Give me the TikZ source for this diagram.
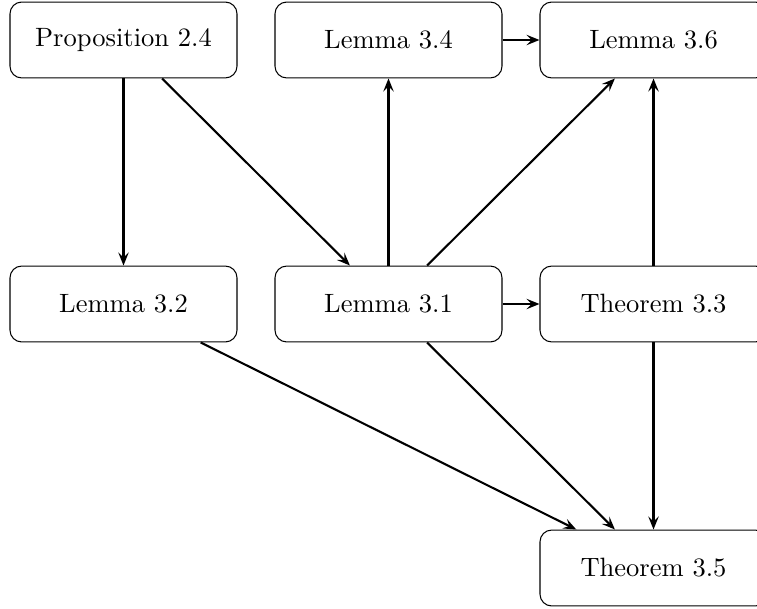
\documentclass[tikz,border=0pt]{standalone}
\usetikzlibrary{arrows.meta}
\begin{document}
\begin{tikzpicture}[x=0.3846pt,y=-0.3846pt,
  box/.style={draw, rounded corners=4.5pt, minimum width=87.3pt, minimum height=29.2pt, inner sep=0pt, font=\fontsize{10.2}{12}\selectfont},
  arr/.style={thick, -{Stealth[length=5pt,width=4pt,inset=2pt]}}]
\useasboundingbox (0,0) rectangle (757,608);
\node[box] (p24) at (123.5,40) {Proposition 2.4};
\node[box] (l34) at (388.5,40) {Lemma 3.4};
\node[box] (l36) at (653.5,40) {Lemma 3.6};
\node[box] (l32) at (123.5,304) {Lemma 3.2};
\node[box] (l31) at (388.5,304) {Lemma 3.1};
\node[box] (t33) at (653.5,304) {Theorem 3.3};
\node[box] (t35) at (653.5,568) {Theorem 3.5};
\draw[arr] (p24) -- (l32);
\draw[arr] (p24) -- (l31);
\draw[arr] (l31) -- (l34);
\draw[arr] (l31) -- (l36);
\draw[arr] (l34) -- (l36);
\draw[arr] (l31) -- (t33);
\draw[arr] (t33) -- (l36);
\draw[arr] (l32) -- (t35);
\draw[arr] (l31) -- (t35);
\draw[arr] (t33) -- (t35);
\end{tikzpicture}
\end{document}
